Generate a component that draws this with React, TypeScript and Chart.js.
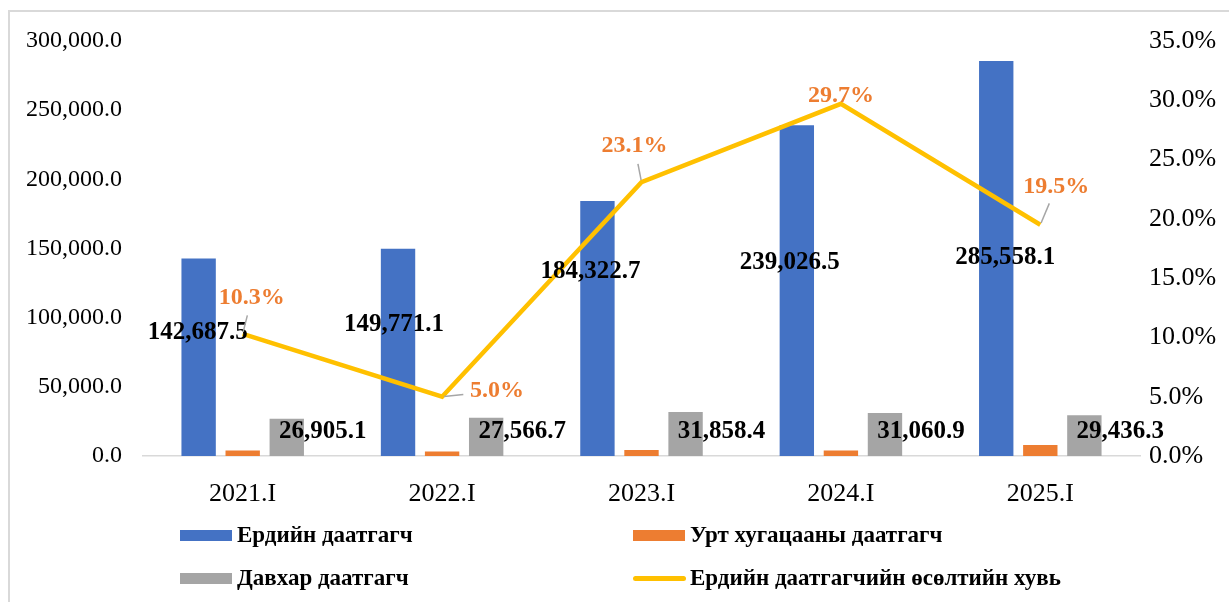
import React, { useEffect, useRef } from "react";
import { Chart, registerables } from "chart.js";

Chart.register(...registerables);

const categories = ["2021.I", "2022.I", "2023.I", "2024.I", "2025.I"];
const regularInsured = [142687.5, 149771.1, 184322.7, 239026.5, 285558.1];
const longTermInsured = [4000, 3300, 4300, 4000, 8000];
const doubleInsured = [26905.1, 27566.7, 31858.4, 31060.9, 29436.3];
const growthRate = [10.3, 5.0, 23.1, 29.7, 19.5];
const leftTicks = [0, 50000, 100000, 150000, 200000, 250000, 300000];
const rightTicks = [0, 5, 10, 15, 20, 25, 30, 35];

const seriesNames = [
  "Ердийн даатгагч",
  "Урт хугацааны даатгагч",
  "Давхар даатгагч",
  "Ердийн даатгагчийн өсөлтийн хувь",
];

// label placement (style), not data
const blueLabelAnchor = [89600, 94700, 133700, 140200, 143100];
const blueLabelDx = [1, -2, -5, -5, 11];
const pctLabelOffset = [
  [9, -36],
  [55, -6],
  [-7, -36],
  [0, -8],
  [16, -38],
];
const pctLeader = [true, true, true, false, true];

const BLUE = "#4472C4";
const ORANGE = "#ED7D31";
const GRAY = "#A5A5A5";
const YELLOW = "#FFC000";
const FONT = "'Liberation Serif', 'Times New Roman', serif";

const fmt = (v: number) =>
  v.toLocaleString("en-US", { minimumFractionDigits: 1, maximumFractionDigits: 1 });

const labelPlugin = {
  id: "customLabels",
  afterDatasetsDraw(chart: any) {
    const ctx = chart.ctx;
    const y = chart.scales.y;
    const blueMeta = chart.getDatasetMeta(0);
    const grayMeta = chart.getDatasetMeta(2);
    const lineMeta = chart.getDatasetMeta(3);
    ctx.save();
    ctx.textAlign = "center";
    ctx.textBaseline = "middle";
    ctx.font = `bold 25px ${FONT}`;
    ctx.fillStyle = "#000";
    blueMeta.data.forEach((bar: any, i: number) => {
      ctx.fillText(fmt(regularInsured[i]), bar.x + blueLabelDx[i] - 2, y.getPixelForValue(blueLabelAnchor[i]));
    });
    grayMeta.data.forEach((bar: any, i: number) => {
      ctx.fillText(fmt(doubleInsured[i]), bar.x + 36, bar.base - 24);
    });
    ctx.font = `bold 24px ${FONT}`;
    lineMeta.data.forEach((pt: any, i: number) => {
      const [dx, dy] = pctLabelOffset[i];
      const lx = pt.x + dx;
      const ly = pt.y + dy;
      if (pctLeader[i]) {
        const ang = Math.atan2(ly - pt.y, lx - pt.x);
        const len = Math.hypot(lx - pt.x, ly - pt.y);
        const endLen = Math.max(len - (Math.abs(dx) > 30 ? 34 : 18), 6);
        ctx.strokeStyle = "#A6A6A6";
        ctx.lineWidth = 1.5;
        ctx.beginPath();
        ctx.moveTo(pt.x + Math.cos(ang) * 2, pt.y + Math.sin(ang) * 2);
        ctx.lineTo(pt.x + Math.cos(ang) * endLen, pt.y + Math.sin(ang) * endLen);
        ctx.stroke();
      }
      ctx.fillStyle = ORANGE;
      ctx.fillText(growthRate[i].toFixed(1) + "%", lx, ly);
    });
    ctx.restore();
  },
};

export default function App() {
  const ref = useRef<HTMLCanvasElement>(null);
  useEffect(() => {
    if (!ref.current) return;
    const chart = new Chart(ref.current, {
      type: "bar",
      data: {
        labels: categories,
        datasets: [
          { label: seriesNames[0], data: regularInsured, backgroundColor: BLUE, yAxisID: "y", order: 1 },
          { label: seriesNames[1], data: longTermInsured, backgroundColor: ORANGE, yAxisID: "y", order: 1 },
          { label: seriesNames[2], data: doubleInsured, backgroundColor: GRAY, yAxisID: "y", order: 1 },
          {
            type: "line",
            label: seriesNames[3],
            data: growthRate,
            borderColor: YELLOW,
            backgroundColor: YELLOW,
            borderWidth: 4.5,
            pointRadius: 0,
            tension: 0,
            yAxisID: "y1",
            order: 0,
          } as any,
        ],
      },
      options: {
        responsive: false,
        animation: false,
        datasets: { bar: { categoryPercentage: 0.663, barPercentage: 0.78 } },
        layout: { padding: { top: 41, left: 0, right: 0, bottom: 0 } },
        plugins: { legend: { display: false }, tooltip: { enabled: false } },
        scales: {
          x: {
            grid: { display: false },
            border: { display: true, color: "#D9D9D9", width: 1.5 },
            ticks: { font: { family: FONT, size: 26 }, color: "#000", padding: 15 },
            afterFit: (a: any) => { a.height = 146; },
          },
          y: {
            position: "left",
            min: 0,
            max: 300000,
            grid: { display: false, drawTicks: false },
            border: { display: false },
            afterBuildTicks: (a: any) => { a.ticks = leftTicks.map((v) => ({ value: v })); },
            ticks: {
              font: { family: FONT, size: 24 },
              color: "#000",
              padding: 21,
              callback: (v: any) => fmt(Number(v)),
            },
            afterFit: (a: any) => { a.width = 143; },
          },
          y1: {
            position: "right",
            min: 0,
            max: 35,
            grid: { display: false, drawTicks: false },
            border: { display: false },
            afterBuildTicks: (a: any) => { a.ticks = rightTicks.map((v) => ({ value: v })); },
            ticks: {
              font: { family: FONT, size: 26 },
              color: "#000",
              padding: 9,
              callback: (v: any) => Number(v).toFixed(1) + "%",
            },
            afterFit: (a: any) => { a.width = 89; },
          },
        },
      } as any,
      plugins: [labelPlugin],
    });
    return () => chart.destroy();
  }, []);

  const legendText: React.CSSProperties = {
    position: "absolute",
    fontFamily: FONT,
    fontWeight: "bold",
    fontSize: 23,
    color: "#000",
    lineHeight: "24px",
    whiteSpace: "nowrap",
  };
  const box = (left: number, top: number, color: string): React.CSSProperties => ({
    position: "absolute",
    left,
    top,
    width: 52,
    height: 11,
    background: color,
  });

  return (
    <div style={{ position: "fixed", left: 0, top: 0, width: 1229, height: 602, overflow: "hidden", background: "#fff" }}>
      <div
        style={{
          position: "absolute",
          left: 8,
          top: 10,
          width: 1400,
          height: 800,
          borderLeft: "2px solid #D9D9D9",
          borderTop: "2px solid #D9D9D9",
        }}
      />
      <canvas ref={ref} width={1229} height={602} style={{ position: "absolute", left: 0, top: 0, width: 1229, height: 602 }} />
      <div style={box(180, 530, BLUE)} />
      <div style={{ ...legendText, left: 237, top: 523 }}>{seriesNames[0]}</div>
      <div style={box(633, 530, ORANGE)} />
      <div style={{ ...legendText, left: 690, top: 523 }}>{seriesNames[1]}</div>
      <div style={box(180, 573, GRAY)} />
      <div style={{ ...legendText, left: 237, top: 566 }}>{seriesNames[2]}</div>
      <div style={{ position: "absolute", left: 633, top: 576, width: 53, height: 5, borderRadius: 3, background: YELLOW }} />
      <div style={{ ...legendText, left: 690, top: 566 }}>{seriesNames[3]}</div>
    </div>
  );
}
